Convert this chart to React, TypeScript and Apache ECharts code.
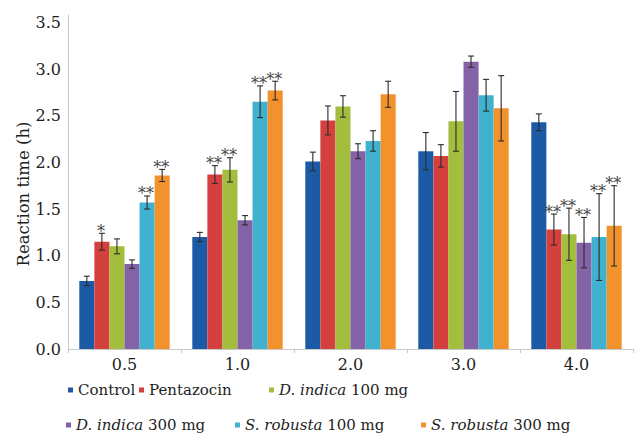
import React, { useEffect, useRef } from "react";
import * as echarts from "echarts";

const categories = ["0.5", "1.0", "2.0", "3.0", "4.0"];
const seriesNames = [
  "Control",
  "Pentazocin",
  "D. indica 100 mg",
  "D. indica 300 mg",
  "S. robusta 100 mg",
  "S. robusta 300 mg",
];
const colors = ["#1c5aa5", "#d4403e", "#a3bd3c", "#8462a7", "#40b2d0", "#f2922d"];

const control = [0.73, 1.2, 2.01, 2.12, 2.43];
const controlErr = [0.05, 0.05, 0.1, 0.2, 0.09];
const pentazocin = [1.15, 1.87, 2.45, 2.07, 1.28];
const pentazocinErr = [0.09, 0.095, 0.155, 0.12, 0.166];
const dIndica100 = [1.1, 1.92, 2.6, 2.44, 1.23];
const dIndica100Err = [0.08, 0.13, 0.115, 0.32, 0.28];
const dIndica300 = [0.91, 1.38, 2.12, 3.08, 1.14];
const dIndica300Err = [0.045, 0.05, 0.08, 0.06, 0.27];
const sRobusta100 = [1.57, 2.65, 2.23, 2.72, 1.2];
const sRobusta100Err = [0.07, 0.17, 0.11, 0.17, 0.465];
const sRobusta300 = [1.86, 2.77, 2.73, 2.58, 1.32];
const sRobusta300Err = [0.065, 0.1, 0.14, 0.35, 0.43];

const controlStars = ["", "", "", "", ""];
const pentazocinStars = ["*", "**", "", "", "**"];
const dIndica100Stars = ["", "**", "", "", "**"];
const dIndica300Stars = ["", "", "", "", "**"];
const sRobusta100Stars = ["**", "**", "", "", "**"];
const sRobusta300Stars = ["**", "**", "", "", "**"];

const yTicks = ["0.0", "0.5", "1.0", "1.5", "2.0", "2.5", "3.0", "3.5"];

const values = [control, pentazocin, dIndica100, dIndica300, sRobusta100, sRobusta300];
const errors = [controlErr, pentazocinErr, dIndica100Err, dIndica300Err, sRobusta100Err, sRobusta300Err];
const stars = [controlStars, pentazocinStars, dIndica100Stars, dIndica300Stars, sRobusta100Stars, sRobusta300Stars];

const FONT = "DejaVu Serif";
const TEXT = "#1e1e1e";
const STAR = "#454545";

const legendPos = [
  { left: 68, top: 382 },
  { left: 139, top: 382 },
  { left: 269, top: 382 },
  { left: 66, top: 417 },
  { left: 235, top: 417 },
  { left: 421, top: 417 },
];

function legendFormatter(name: string) {
  if (name.startsWith("D. indica")) return "{i|D. indica}" + name.slice(9);
  if (name.startsWith("S. robusta")) return "{i|S. robusta}" + name.slice(10);
  return name;
}

export default function App() {
  const ref = useRef<HTMLDivElement>(null);
  useEffect(() => {
    if (!ref.current) return;
    const chart = echarts.init(ref.current, undefined, { renderer: "svg" });
    const n = seriesNames.length;

    const barSeries = seriesNames.map((name, k) => ({
      type: "bar",
      name,
      data: values[k],
      barGap: "0%",
      barCategoryGap: "20%",
      itemStyle: { color: colors[k] },
      z: 2,
    }));

    const errSeries = seriesNames.map((name, k) => ({
      type: "custom",
      name: name + " err",
      silent: true,
      z: 5,
      itemStyle: { color: STAR },
      data: values[k].map((v, i) => [i, v, errors[k][i]]),
      renderItem: (params: any, api: any) => {
        const cat = api.value(0);
        const mean = api.value(1);
        const err = api.value(2);
        const band = api.size([1, 0])[0];
        const bw = (band * 0.8) / n;
        const off = (k - (n - 1) / 2) * bw;
        const top = api.coord([cat, mean + err]);
        const bot = api.coord([cat, mean - err]);
        const x = top[0] + off;
        const cw = 3;
        const st = { stroke: "#2b2b2b", lineWidth: 1.1 };
        const children: any[] = [
          { type: "line", shape: { x1: x, y1: top[1], x2: x, y2: bot[1] }, style: st },
          { type: "line", shape: { x1: x - cw, y1: top[1], x2: x + cw, y2: top[1] }, style: st },
          { type: "line", shape: { x1: x - cw, y1: bot[1], x2: x + cw, y2: bot[1] }, style: st },
        ];
        const s = stars[k][params.dataIndex];
        if (s) {
          children.push({
            type: "text",
            x: x - 1,
            y: top[1] + 6,
            style: {
              text: s,
              fill: STAR,
              textFill: STAR,
              stroke: "none",
              lineWidth: 0,
              fontFamily: FONT,
              fontSize: 16,
              align: "center",
              verticalAlign: "bottom",
            },
          });
        }
        return { type: "group", children };
      },
    }));

    const legends = seriesNames.map((name, k) => ({
      data: [name],
      left: legendPos[k].left,
      top: legendPos[k].top,
      padding: 0,
      icon: "rect",
      itemWidth: 5,
      itemHeight: 5,
      formatter: legendFormatter,
      textStyle: {
        fontFamily: FONT,
        fontSize: 15,
        lineHeight: 16,
        color: TEXT,
        rich: {
          i: { fontFamily: FONT, fontSize: 15, lineHeight: 16, fontStyle: "italic", color: TEXT },
        },
      },
    }));

    chart.setOption({
      animation: false,
      backgroundColor: "#ffffff",
      textStyle: { fontFamily: FONT },
      grid: { left: 68, right: 2, top: 15, bottom: 86, containLabel: false },
      legend: legends,
      xAxis: {
        type: "category",
        data: categories,
        axisLine: { lineStyle: { color: "#c8c8c8", width: 1 } },
        axisTick: { show: true, alignWithLabel: false, length: 4, lineStyle: { color: "#c8c8c8" } },
        axisLabel: { fontFamily: FONT, fontSize: 16, color: TEXT, margin: 7 },
      },
      yAxis: {
        type: "value",
        min: 0,
        max: 3.58,
        interval: 0.5,
        splitLine: { show: false },
        axisLine: { show: true, lineStyle: { color: "#c8c8c8", width: 1 } },
        axisTick: { show: false },
        axisLabel: {
          fontFamily: FONT,
          fontSize: 16,
          color: TEXT,
          margin: 7,
          formatter: (v: number) => {
            const idx = Math.round(v * 2);
            return Math.abs(v * 2 - idx) < 1e-6 && yTicks[idx] ? yTicks[idx] : "";
          },
        },
      },
      graphic: [
        {
          type: "text",
          x: 23,
          y: 194,
          rotation: Math.PI / 2,
          style: {
            text: "Reaction time (h)",
            fontFamily: FONT,
            fontSize: 16.5,
            fill: TEXT,
            align: "center",
            verticalAlign: "middle",
          },
        },
      ],
      series: [...barSeries, ...errSeries],
    });
    return () => chart.dispose();
  }, []);
  return (
    <div
      ref={ref}
      style={{ position: "fixed", left: 0, top: 0, width: 635, height: 435, background: "#fff" }}
    />
  );
}
